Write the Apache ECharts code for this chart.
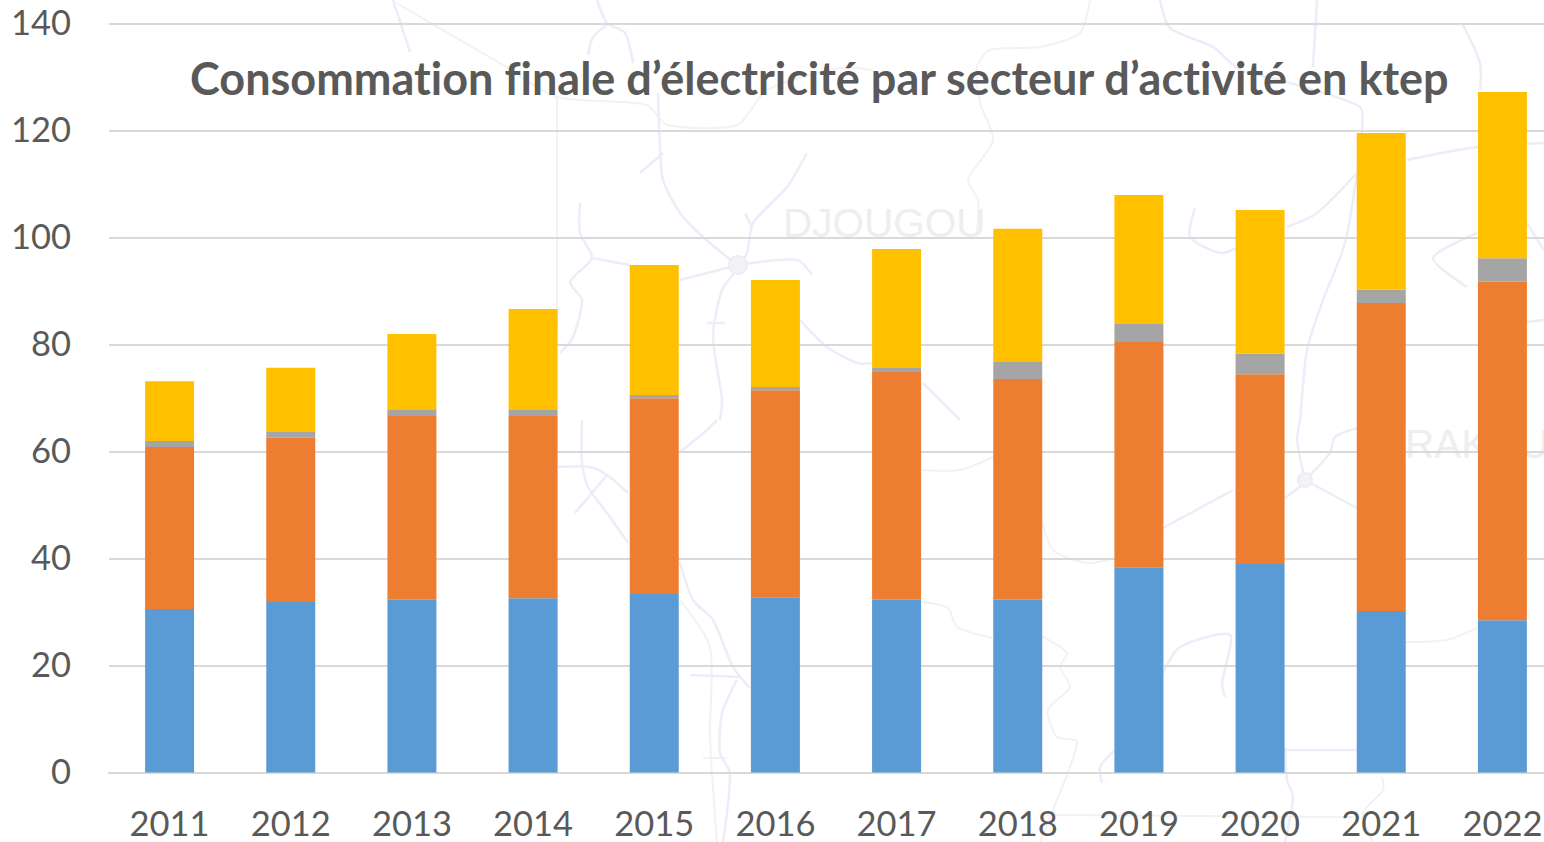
<!DOCTYPE html>
<html>
<head>
<meta charset="utf-8">
<style>
  html, body { margin: 0; padding: 0; background: #fff; overflow: hidden; }
  #chart { width: 1544px; height: 842px; }
  /* the source font has no ti / fi ligatures */
  #chart text { font-variant-ligatures: none !important; }
</style>
<script src="https://cdn.jsdelivr.net/npm/echarts@6/dist/echarts.min.js"></script>
</head>
<body>
<div id="chart"></div>
<script>
const years = ["2011", "2012", "2013", "2014", "2015", "2016", "2017", "2018", "2019", "2020", "2021", "2022"];
const serieBleue = [30.6, 31.9, 32.3, 32.6, 33.4, 32.8, 32.3, 32.3, 38.4, 39.0, 30.2, 28.5];
const serieOrange = [30.3, 30.7, 34.4, 34.1, 36.6, 38.7, 42.6, 41.3, 42.1, 35.5, 57.6, 63.3];
const serieGrise = [1.1, 1.1, 1.1, 1.1, 0.6, 0.6, 0.9, 3.2, 3.4, 3.8, 2.5, 4.4];
const serieJaune = [11.2, 12.0, 14.2, 18.9, 24.3, 20.0, 22.1, 24.9, 24.1, 26.9, 29.3, 31.1];

// faint map behind the chart (decoration only, page pixels)
const mapRoads = [
  [[597,0],[607,23],[625,33],[633,63]], [[607,25],[593,37],[588,55]],
  [[658,93],[660,147],[663,180],[680,213],[703,237],[737,265]], [[663,153],[640,173]],
  [[807,153],[787,187],[753,223],[747,253],[738,265]], [[745,213],[752,227]],
  [[738,265],[797,260],[812,275]], [[738,265],[680,280]],
  [[580,203],[580,233],[592,258],[570,282],[582,300],[573,337],[560,353]], [[592,258],[630,265]],
  [[737,270],[722,290],[713,337],[722,400],[720,420]], [[707,323],[725,323]],
  [[800,320],[827,347],[857,363],[873,363]], [[923,383],[960,420]],
  [[1160,0],[1170,28],[1213,47],[1240,70],[1280,80],[1360,107],[1362,130],[1357,173]],
  [[1317,0],[1313,67]], [[1407,160],[1477,147],[1544,143]],
  [[1357,173],[1317,213],[1287,227]], [[1357,173],[1345,243],[1323,300],[1307,350],[1300,420],[1297,440],[1305,480]],
  [[1195,208],[1190,237],[1220,253],[1237,248]], [[1477,233],[1433,258],[1467,287]],
  [[1462,23],[1480,63],[1480,90]], [[1527,223],[1544,250]], [[1527,322],[1544,320]],
  [[1305,480],[1330,453],[1335,437],[1357,428]], [[1305,480],[1357,508]],
  [[1233,490],[1163,528]], [[1305,483],[1285,498]],
  [[1163,673],[1180,647],[1230,635],[1222,683],[1225,697]],
  [[1115,750],[1100,767],[1102,783]], [[1285,750],[1320,750],[1357,750]],
  [[1285,747],[1287,780],[1293,797],[1285,842]],
  [[582,420],[582,463],[588,487],[610,517],[628,543]], [[558,467],[590,467],[607,475],[628,493]],
  [[607,475],[575,513]], [[680,452],[707,430],[717,420]],
  [[680,563],[693,600],[713,620],[733,667],[750,688]], [[690,675],[740,677]],
  [[737,680],[722,713],[720,753],[730,773],[723,842]], [[393,0],[410,52]]
];
const mapBorders = [
  [[396,3],[503,65],[557,97],[647,105],[667,125],[737,125],[767,90],[840,68],[873,70]],
  [[557,97],[557,330]],
  [[1090,0],[1080,33],[1040,47],[990,50],[977,67],[980,103],[993,140],[968,180],[978,200],[977,233]],
  [[1042,520],[1053,550],[1087,563],[1115,558]],
  [[1043,637],[1067,653],[1060,667],[1070,687],[1048,710],[1057,737],[1077,742],[1053,810],[1040,842]],
  [[1405,642],[1447,640],[1477,628]], [[1382,777],[1383,790],[1363,813],[1373,842]],
  [[1047,815],[1353,817]], [[680,600],[710,647],[710,737],[717,842]], [[703,758],[727,758]],
  [[922,470],[960,470],[993,457]], [[922,602],[948,608],[957,627],[993,638]]
];
const mapTowns = [
  { name: "DJOUGOU", x: 783, y: 223, dotX: 738, dotY: 265, r: 9 },
  { name: "PARAKOU", x: 1354, y: 444, dotX: 1305, dotY: 480, r: 7 }
];

const textColor = "#595959";
const gridColor = "#d9d9d9";
const labelFont = "Lato, 'Open Sans', sans-serif";

function barSeries(name, values, color) {
  return {
    name: name,
    type: "bar",
    stack: "total",
    barWidth: 49,
    data: values,
    itemStyle: { color: color },
    emphasis: { disabled: true }
  };
}

const background = [];
mapBorders.forEach((points) => {
  background.push({
    type: "polyline", silent: true, z: -10,
    shape: { points: points, smooth: 0.25 },
    style: { stroke: "#f2f2f3", lineWidth: 2, fill: null }
  });
});
mapRoads.forEach((points) => {
  background.push({
    type: "polyline", silent: true, z: -9,
    shape: { points: points, smooth: 0.25 },
    style: { stroke: "#ecedf8", lineWidth: 2.5, fill: null }
  });
});
mapTowns.forEach((town) => {
  background.push({
    type: "text", silent: true, z: -8, x: town.x, y: town.y,
    style: {
      text: town.name, fill: "#eeeeee", font: "40.5px 'Liberation Sans', Arial, sans-serif",
      verticalAlign: "middle"
    }
  });
  background.push({
    type: "circle", silent: true, z: -8,
    shape: { cx: town.dotX, cy: town.dotY, r: town.r },
    style: { fill: "#f3f3f3", stroke: "#ecedf6", lineWidth: 2 }
  });
});

const chart = echarts.init(document.getElementById("chart"), null, { renderer: "svg" });
chart.setOption({
  animation: false,
  backgroundColor: "#fff",
  graphic: background,
  title: {
    text: "Consommation finale d\u2019\u00e9lectricit\u00e9 par secteur d\u2019activit\u00e9 en ktep",
    left: 185,
    top: 50,
    textStyle: { color: textColor, fontFamily: labelFont, fontWeight: "bold", fontSize: 45 }
  },
  grid: { left: 109, top: 24, width: 1454, height: 748.5, outerBoundsMode: "none" },
  xAxis: {
    type: "category",
    data: years,
    axisTick: { show: false },
    axisLine: { lineStyle: { color: gridColor, width: 2 } },
    axisLabel: { color: textColor, fontFamily: labelFont, fontSize: 34.5, margin: 32 }
  },
  yAxis: {
    type: "value",
    min: 0,
    max: 140,
    interval: 20,
    axisLine: { show: false },
    axisTick: { show: false },
    splitLine: { lineStyle: { color: gridColor, width: 2 } },
    axisLabel: { color: textColor, fontFamily: labelFont, fontSize: 34.5, margin: 38, verticalAlign: "bottom", lineHeight: 5 }
  },
  series: [
    barSeries("S\u00e9rie 1", serieBleue, "#5b9bd5"),
    barSeries("S\u00e9rie 2", serieOrange, "#ed7d31"),
    barSeries("S\u00e9rie 3", serieGrise, "#a5a5a5"),
    barSeries("S\u00e9rie 4", serieJaune, "#ffc000")
  ]
});
</script>
</body>
</html>
